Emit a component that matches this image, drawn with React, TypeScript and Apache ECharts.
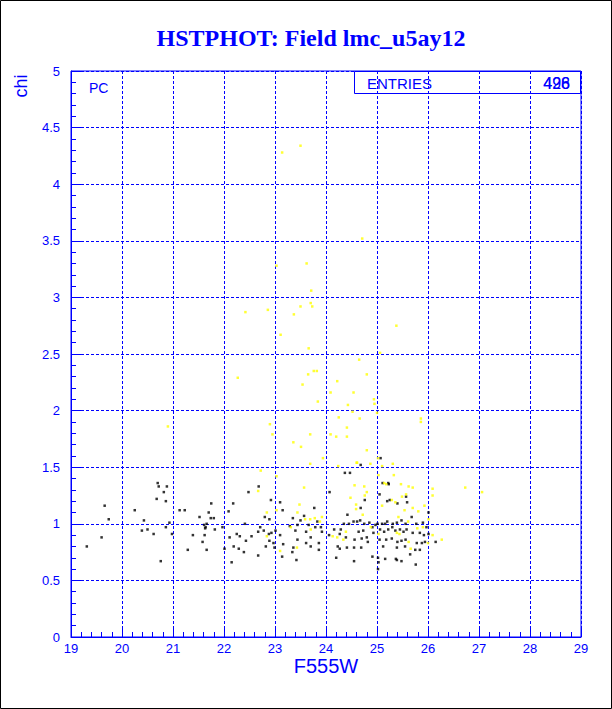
import React, { useEffect, useRef } from "react";
import * as echarts from "echarts";

const titleText = "HSTPHOT: Field lmc_u5ay12";
const xAxisName = "F555W";
const yAxisName = "chi";
const entriesBlack = "498";
const entriesYellow = "426";

// black markers [F555W, chi]
const blackPoints: [number, number][] = [
  [20.70,1.36],[20.72,1.33],[20.88,1.33],[20.82,1.28],[20.68,1.22],[20.86,1.20],[19.66,1.16],[19.74,1.04],[20.25,1.12],[20.43,1.03],
  [20.39,0.94],[20.50,0.95],[20.62,0.91],[20.93,1.01],[20.86,0.97],[20.98,0.91],[19.60,0.88],[19.31,0.80],[20.76,0.67],[21.13,1.12],
  [21.23,1.12],[21.52,1.06],[21.70,1.10],[21.75,1.18],[21.74,1.05],[21.80,1.05],[21.66,1.00],[21.61,0.99],[21.64,0.97],[21.63,0.96],
  [21.82,0.95],[21.39,0.90],[21.62,0.90],[21.58,0.84],[21.29,0.77],[21.66,0.77],[21.97,0.97],[22.09,1.11],[22.18,1.18],[22.48,1.28],
  [22.68,1.33],[22.41,1.00],[22.25,0.91],[22.31,0.89],[22.11,0.88],[22.43,0.85],[22.54,0.89],[22.67,0.93],[22.01,0.78],[22.19,0.80],
  [22.29,0.78],[22.39,0.75],[22.15,0.66],[22.67,0.72],
  [22.92,1.21],[23.10,1.19],[23.15,1.12],[22.80,1.06],[22.89,1.04],[22.71,0.97],[22.78,0.94],[22.93,0.92],[22.88,0.91],[23.01,0.94],
  [23.10,0.90],[22.89,0.85],[22.97,0.83],[22.82,0.80],[22.99,0.79],[23.16,0.82],[23.14,0.71],[23.29,0.98],[23.40,0.94],[23.44,0.99],
  [23.44,0.86],[23.35,1.05],[23.50,1.03],[23.57,1.07],[23.77,1.14],[23.83,1.02],[23.66,0.99],[23.79,0.97],[23.90,0.97],[23.92,0.93],
  [23.61,0.93],[23.70,0.88],[23.61,0.83],[23.86,0.83],[23.70,0.80],[23.36,0.79],[23.34,0.75],[23.86,0.77],[23.42,0.68],[24.07,1.28],
  [24.37,1.45],[24.47,1.45],[24.68,1.52],[24.06,0.90],[24.16,0.95],[24.42,1.08],[24.54,1.02],[24.61,1.02],[24.67,1.03],[24.29,0.95],
  [24.27,0.91],[24.39,0.88],[24.56,0.86],[24.64,0.93],[24.73,0.94],[24.80,0.88],[24.70,0.87],[24.93,0.92],[24.91,0.97],[24.23,0.80],
  [24.27,0.78],[24.41,0.79],[24.55,0.79],[24.69,0.79],[24.82,0.84],[24.20,0.70],[24.55,0.67],
  [24.35,1.00],[24.45,1.00],[24.75,1.00],[24.85,1.01],[24.97,0.99],
  [25.11,1.36],[25.23,1.35],[25.05,1.26],[25.25,1.21],[25.40,1.18],[25.59,1.19],[25.01,1.00],[25.10,1.00],[25.16,1.00],[25.20,1.02],
  [25.31,1.00],[25.39,1.01],[25.48,1.03],[25.56,1.00],[25.68,1.06],[25.77,1.00],[25.90,1.01],[25.97,0.97],[25.06,0.95],[25.14,0.93],
  [25.22,0.95],[25.30,0.97],[25.36,0.94],[25.45,0.95],[25.52,0.93],[25.58,0.95],[25.70,0.92],[25.84,0.92],[25.92,0.90],[26.01,0.91],
  [25.05,0.86],[25.18,0.86],[25.29,0.87],[25.40,0.84],[25.48,0.85],[25.56,0.86],[25.78,0.83],[25.88,0.83],[25.94,0.84],[26.15,0.84],
  [25.12,0.80],[25.39,0.79],[25.55,0.80],[25.75,0.77],[25.84,0.77],[25.02,0.70],[25.02,0.60],[25.16,0.69],[25.39,0.68],[25.48,0.67],
  [25.65,0.73],[25.76,0.64],[24.91,0.71],[25.07,1.58],[25.22,1.36],[24.76,1.21],[25.20,1.20],[25.57,1.24],[26.01,1.10],[24.68,1.14],
  [25.03,0.66],[25.37,0.69]
];

// yellow markers [F555W, chi]
const yellowPoints: [number, number][] = [
  [23.69,1.53],[24.24,1.51],[24.60,1.54],[24.87,1.53],[25.10,1.51],[25.31,1.53],[22.72,1.47],[23.03,1.42],[22.67,1.29],[23.57,1.32],
  [22.84,1.10],[23.03,1.12],[23.48,1.17],[23.44,1.10],[23.59,1.04],[23.69,1.04],[23.78,1.05],[23.92,1.06],[23.88,1.02],[23.31,0.97],
  [23.70,0.95],[22.84,0.89],[23.10,0.76],[23.43,0.79],[24.13,0.89],[24.22,0.88],[24.39,0.93],[24.34,0.86],[24.56,1.34],[24.75,1.33],
  [24.80,1.28],[24.76,1.25],[24.59,1.17],[24.59,1.13],[24.48,1.23],[24.72,1.08],[25.03,1.43],[25.14,1.36],[25.18,1.35],[25.33,1.43],
  [25.47,1.35],[25.62,1.33],[25.70,1.32],[25.57,1.26],[25.49,1.24],[25.29,1.21],[25.36,1.19],[26.09,1.31],[26.09,1.25],[25.93,1.16],
  [25.70,1.14],[25.54,1.12],[25.81,1.11],[25.10,1.16],[25.42,1.06],[25.61,1.02],[25.79,0.96],[25.90,0.97],[26.01,1.04],[25.39,0.92],
  [25.44,0.91],[25.62,0.84],[25.66,0.78],[25.03,0.91],[24.88,0.97],[26.09,0.90],
  [23.50,4.34],[23.14,4.28],[24.71,3.52],[23.62,3.30],[23.03,3.28],[23.71,3.06],[23.70,2.95],[23.50,2.92],[23.73,2.92],[22.86,2.89],
  [22.42,2.87],[23.37,2.85],
  [23.11,2.67],[25.38,2.75],[23.66,2.55],[25.06,2.51],[24.65,2.45],[24.80,2.32],[23.65,2.32],[23.76,2.35],[23.82,2.35],[23.54,2.23],
  [24.22,2.26],[24.09,2.16],[24.54,2.16],[23.84,2.08],[24.94,2.10],[24.95,2.06],[24.43,2.05],[24.52,1.99],[25.00,1.98],[24.25,1.94],
  [24.66,1.93],[25.86,1.93],[25.86,1.90],[24.41,1.85],[23.69,1.79],[24.09,1.79],[24.20,1.77],[24.41,1.77],[23.36,1.72],[23.51,1.68],
  [24.80,1.65],[23.94,1.58],[25.02,1.58],[24.61,1.54],
  [22.27,2.29],[20.90,1.86],[22.90,1.88],[22.95,1.79],[26.73,1.32],[27.06,1.28],[26.27,0.86],[26.00,0.83]
];

const BLUE = "#0000ff";
const SANS = "'Liberation Sans', Arial, sans-serif";

export default function App() {
  const ref = useRef<HTMLDivElement>(null);
  useEffect(() => {
    if (!ref.current) return;
    const chart = echarts.init(ref.current, null, { renderer: "svg" });
    const axisCommon = {
      axisLine: { show: true, lineStyle: { color: BLUE, width: 1 } },
      axisTick: { show: true, inside: true, length: 10, lineStyle: { color: BLUE } },
      minorTick: { show: true, splitNumber: 5, length: 5, lineStyle: { color: BLUE } },
      splitLine: { show: true, lineStyle: { color: BLUE, type: [3, 2], width: 1 } },
      minorSplitLine: { show: false },
    };
    chart.setOption({
      animation: false,
      backgroundColor: "#ffffff",
      grid: {
        left: 71, right: 31, top: 71, bottom: 72,
        show: true, borderColor: BLUE, borderWidth: 1, backgroundColor: "transparent",
      },
      xAxis: {
        type: "value", min: 19, max: 29, interval: 1,
        ...axisCommon,
        axisLabel: { color: BLUE, fontFamily: SANS, fontSize: 13, margin: 5 },
      },
      yAxis: {
        type: "value", min: 0, max: 5, interval: 0.5,
        ...axisCommon,
        axisLabel: { color: BLUE, fontFamily: SANS, fontSize: 13, margin: 11 },
      },
      series: [
        {
          type: "scatter", data: blackPoints, symbol: "rect", symbolSize: 2.5,
          itemStyle: { color: "#000000" }, z: 3,
        },
        {
          type: "scatter", data: yellowPoints, symbol: "rect", symbolSize: 2.5,
          itemStyle: { color: "#ffff00" }, z: 4,
        },
      ],
      graphic: [
        {
          type: "rect", shape: { x: 0.5, y: 0.5, width: 611, height: 708 },
          style: { fill: "none", stroke: "#000000", lineWidth: 1 }, silent: true, z: 100,
        },
        {
          type: "text", x: 311, y: 38,
          style: {
            text: titleText, fill: BLUE, font: "bold 24px 'Liberation Serif', 'Times New Roman', serif",
            textAlign: "center", textVerticalAlign: "middle",
          },
        },
        {
          type: "text", x: 21, y: 86, rotation: Math.PI / 2,
          style: {
            text: yAxisName, fill: BLUE, font: `18px ${SANS}`,
            textAlign: "center", textVerticalAlign: "middle",
          },
        },
        {
          type: "text", x: 326, y: 666,
          style: {
            text: xAxisName, fill: BLUE, font: `20px ${SANS}`,
            textAlign: "center", textVerticalAlign: "middle",
          },
        },
        {
          type: "text", x: 89, y: 88,
          style: { text: "PC", fill: BLUE, font: `14px ${SANS}`, textAlign: "left", textVerticalAlign: "middle" },
        },
        {
          type: "rect", shape: { x: 354.5, y: 71.5, width: 226, height: 22 },
          style: { fill: "none", stroke: BLUE, lineWidth: 1 }, z: 50,
        },
        {
          type: "text", x: 367, y: 83,
          style: { text: "ENTRIES", fill: BLUE, font: `15px ${SANS}`, textAlign: "left", textVerticalAlign: "middle" },
          z: 50,
        },
        {
          type: "text", x: 570, y: 83,
          style: { text: entriesBlack, fill: BLUE, font: `16px ${SANS}`, textAlign: "right", textVerticalAlign: "middle" },
          z: 50,
        },
        {
          type: "text", x: 570, y: 83,
          style: { text: entriesYellow, fill: BLUE, font: `16px ${SANS}`, textAlign: "right", textVerticalAlign: "middle" },
          z: 50,
        },
      ],
    });
    return () => chart.dispose();
  }, []);
  return (
    <div
      ref={ref}
      style={{ position: "absolute", left: 0, top: 0, width: 612, height: 709, background: "#ffffff" }}
    />
  );
}
